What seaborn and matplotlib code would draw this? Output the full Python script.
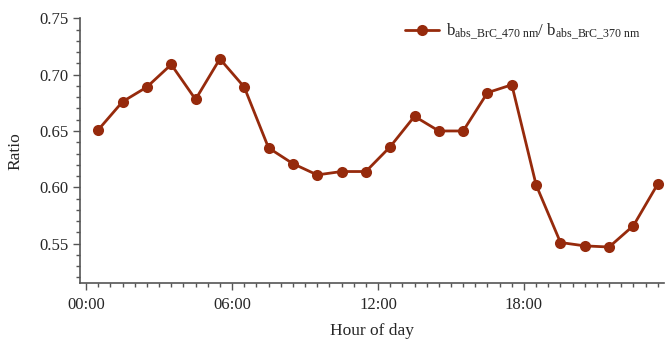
import numpy as np
import matplotlib.pyplot as plt
import matplotlib as mpl
import pandas as pd
import seaborn as sns
from matplotlib.ticker import MultipleLocator, FixedLocator

sns.set_style("ticks")
plt.rcParams['font.family'] = ['Liberation Serif', 'DejaVu Serif']
plt.rcParams['mathtext.fontset'] = 'custom'
plt.rcParams['mathtext.rm'] = 'Liberation Serif'
plt.rcParams['mathtext.it'] = 'Liberation Serif:italic'
mpl.rcParams['font.size'] = 11

# data: hourly mean ratio, plotted at the middle of each hour
hours = np.arange(24) + 0.5
ratio = [0.651, 0.676, 0.689, 0.709, 0.678, 0.714, 0.689, 0.635,
         0.621, 0.611, 0.614, 0.614, 0.636, 0.663, 0.650, 0.650,
         0.684, 0.691, 0.602, 0.551, 0.548, 0.547, 0.566, 0.603]
tick_hours = [0, 6, 12, 18]
tick_labels = ["00:00", "06:00", "12:00", "18:00"]

df = pd.DataFrame({"hour": hours, "ratio": ratio})
color = "#962A0C"
label = r"b$_{\mathregular{abs\_BrC\_470\ nm}}$/ b$_{\mathregular{abs\_BrC\_370\ nm}}$"

fig = plt.figure(figsize=(6.65, 3.39), dpi=100)
ax = fig.add_axes([0.1203, 0.165, 0.878, 0.781])

sns.lineplot(x="hour", y="ratio", data=df, ax=ax, color=color, lw=2,
             marker="o", markersize=8, markeredgewidth=0, label=label)

ax.set_xlim(-0.25, 23.75)
ax.set_ylim(0.515, 0.75)
ax.xaxis.set_major_locator(FixedLocator(tick_hours))
ax.set_xticklabels(tick_labels)
ax.xaxis.set_minor_locator(MultipleLocator(0.5))
ax.yaxis.set_major_locator(MultipleLocator(0.05))
ax.yaxis.set_minor_locator(MultipleLocator(0.01))
ax.yaxis.set_major_formatter(mpl.ticker.FormatStrFormatter("%.2f"))

sns.despine(ax=ax)
for s in ["left", "bottom"]:
    ax.spines[s].set_color("#555555")
    ax.spines[s].set_linewidth(1.2)
ax.tick_params(which="major", length=5, width=1, color="#555555", labelsize=12, pad=3)
ax.tick_params(which="minor", length=3, width=1, color="#555555")
ax.tick_params(axis="x", which="both", direction="out", pad=5)

ax.set_xlabel("Hour of day", fontsize=12.5, labelpad=7)
ax.set_ylabel("Ratio", fontsize=12.5, labelpad=12)

leg = ax.legend(loc="upper right", bbox_to_anchor=(0.985, 1.045), frameon=False,
                fontsize=12.2, handlelength=2.0, handletextpad=0.4)

plt.savefig("out.png", dpi=100)
